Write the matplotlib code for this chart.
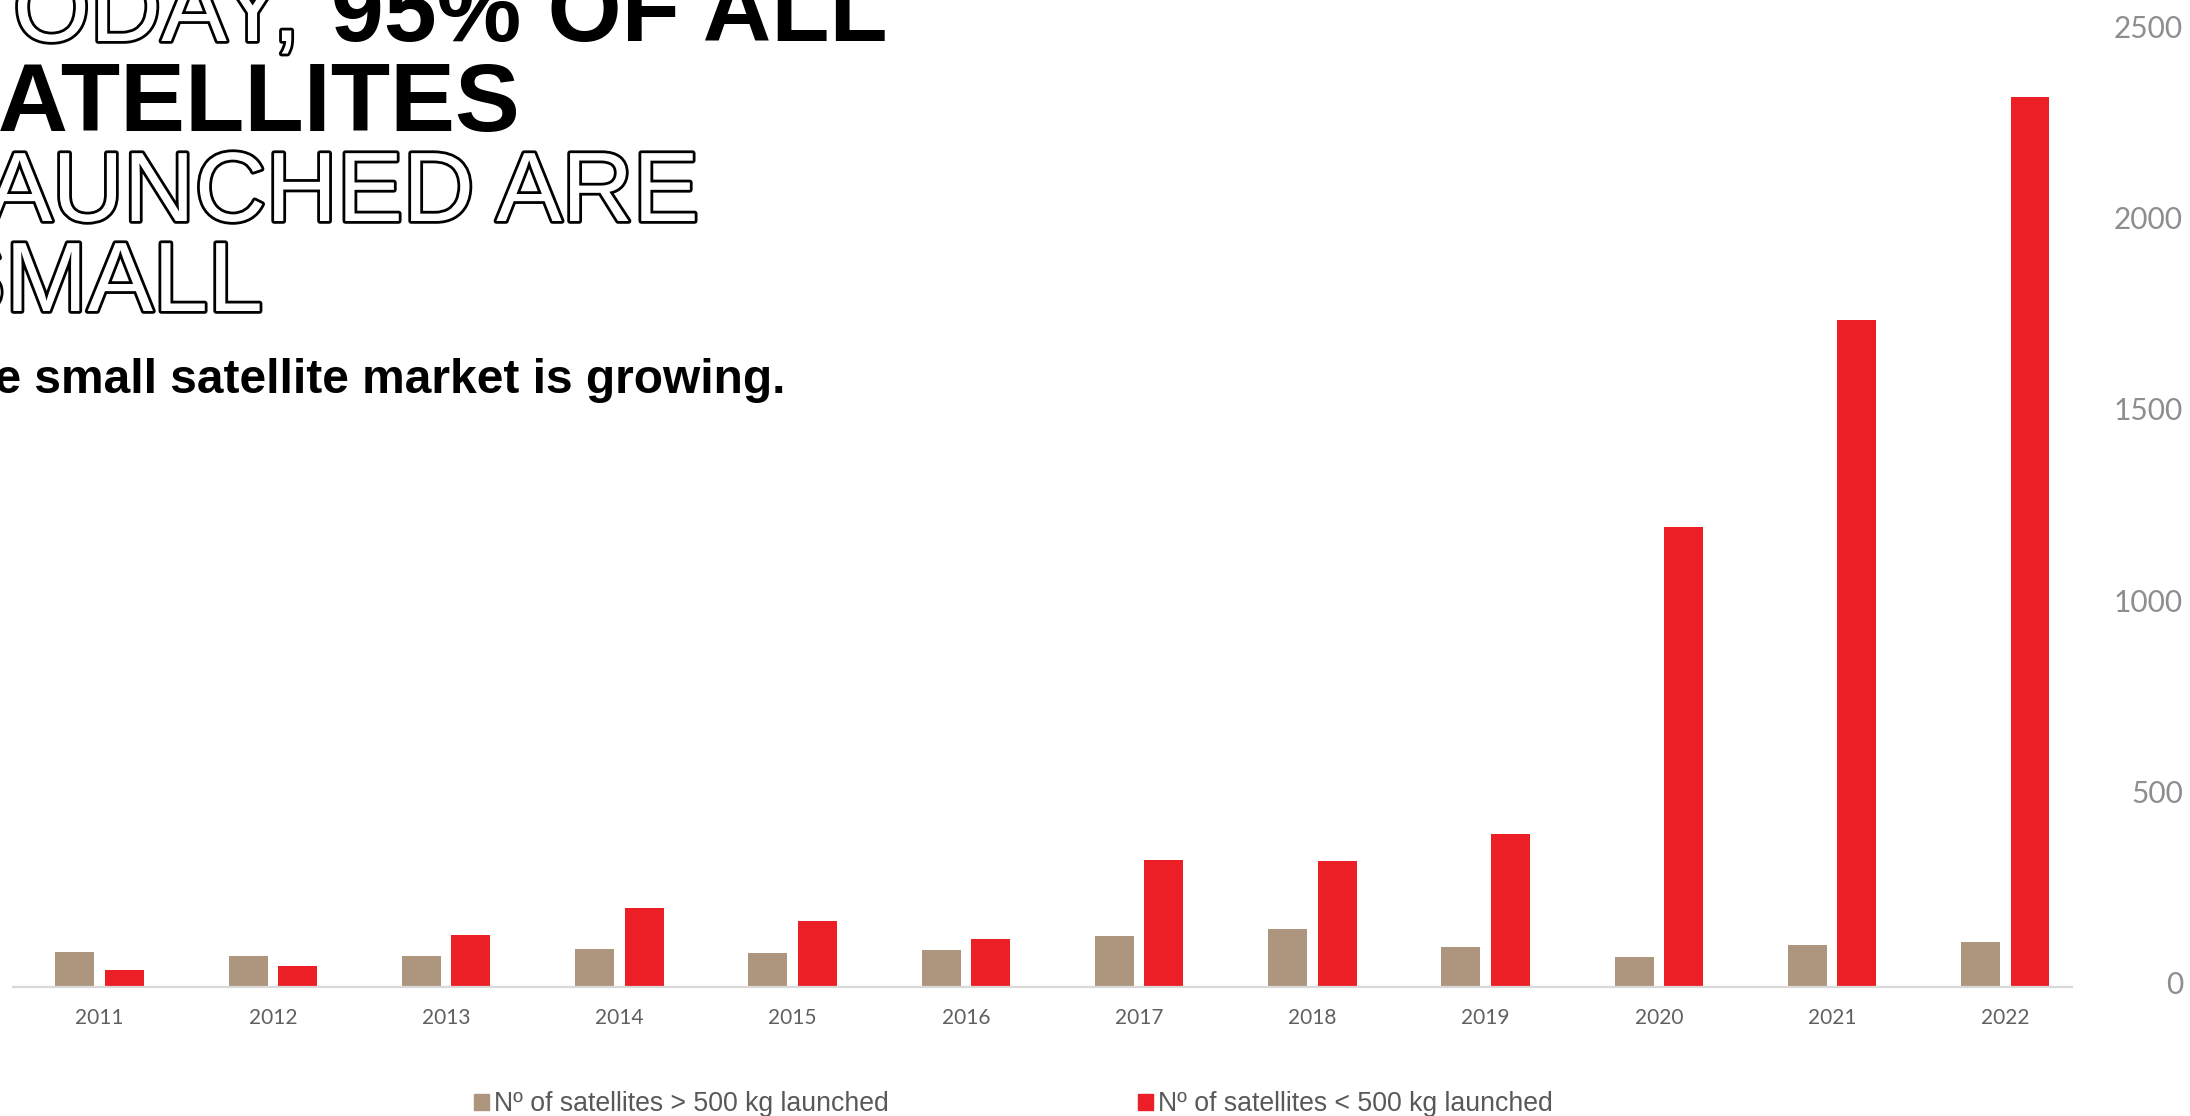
import numpy as np
import matplotlib
matplotlib.use('Agg')
import matplotlib.pyplot as plt
import matplotlib.patheffects as pe
from matplotlib.patches import Patch
from matplotlib.transforms import ScaledTranslation

# Donnees
years = ['2011', '2012', '2013', '2014', '2015', '2016',
         '2017', '2018', '2019', '2020', '2021', '2022']
big_sats = [92, 81, 81, 98, 90, 97, 133, 152, 104, 79, 110, 118]
small_sats = [44, 56, 137, 206, 172, 126, 332, 330, 399, 1201, 1742, 2326]
yticks = [0, 500, 1000, 1500, 2000, 2500]
legend_labels = ['Nº of satellites > 500 kg launched', 'Nº of satellites < 500 kg launched']

gray = '#AE967E'
red = '#EC1F26'

W, H = 2190, 1116
fig = plt.figure(figsize=(W / 100, H / 100), dpi=100)

# zone du graphique en pixels
ax = fig.add_axes([13 / W, (H - 987) / H, 2059 / W, 957 / H])

x = np.arange(len(years))
w = 0.225
off = 0.1426
ax.bar(x - off, big_sats, width=w, color=gray)
ax.bar(x + off, small_sats, width=w, color=red)

ax.set_xlim(-0.5, 11.385)
ax.set_ylim(0, 2500)
ax.set_xticks(x)
ax.set_xticklabels(years, family='Lato', fontsize=15, color='#606060')
ax.tick_params(axis='x', length=0, pad=15)

ax.yaxis.tick_right()
ax.set_yticks(yticks)
ax.set_yticklabels([str(v) for v in yticks], family='Lato', fontsize=21.5,
                   color='#8e8e8e', ha='right')
ax.tick_params(axis='y', length=0, pad=80)
shift = ScaledTranslation(0, 4 / 100, fig.dpi_scale_trans)
for t in ax.yaxis.get_major_ticks():
    t.label2.set_transform(t.label2.get_transform() + shift)

for s in ['top', 'left', 'right']:
    ax.spines[s].set_visible(False)
ax.spines['bottom'].set_color('#D9D9D9')
ax.spines['bottom'].set_linewidth(1.6)

# Legende
handles = [Patch(color=gray), Patch(color=red)]
fig.legend(handles, legend_labels, loc='center left', ncol=2,
           bbox_to_anchor=(474 / W, 1 - 1104 / H), frameon=False,
           prop={'family': 'Liberation Sans', 'size': 19.2}, labelcolor='#595959',
           handlelength=0.55, handleheight=0.55, handletextpad=0.2,
           columnspacing=9.35, borderpad=0, borderaxespad=0)

# Titre
outline = [pe.withStroke(linewidth=4, foreground='black')]
def line(txt, xr, base, fs, bold, **kw):
    t = fig.text(xr / W, 1 - base / H, txt, ha='right', va='baseline',
                 family='Liberation Sans', fontsize=fs,
                 fontweight='bold' if bold else 'normal', **kw)
    return t

line('TODAY,', 300, 41, 71, False, color='white', path_effects=outline)
line('95% OF ALL', 888, 41, 68.5, True, color='black')
line('SATELLITES', 520, 131, 70, True, color='black')
line('LAUNCHED ARE', 699, 221, 71, False, color='white', path_effects=outline)
line('SMALL', 263, 311, 71, False, color='white', path_effects=outline)

fig.text(785 / W, 1 - 393 / H, 'The small satellite market is growing.',
         ha='right', va='baseline', family='Liberation Sans', fontsize=34.5,
         fontweight='bold', color='black')

fig.savefig('out.png', dpi=100)
